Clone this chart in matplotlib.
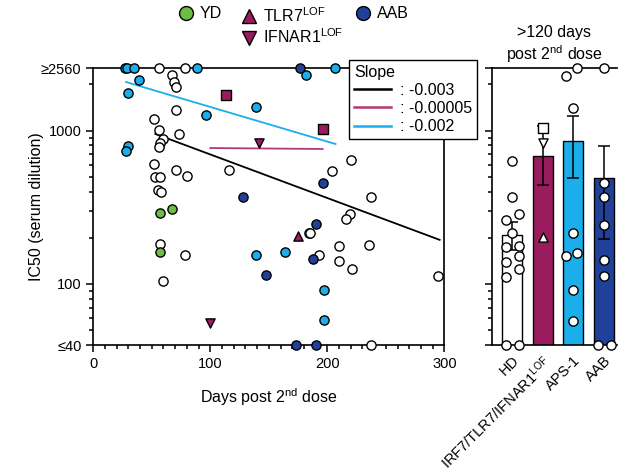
import matplotlib as mpl
import matplotlib.pyplot as plt
from matplotlib.lines import Line2D
from matplotlib.ticker import FixedLocator, MultipleLocator, NullFormatter

mpl.rcParams['font.family'] = ['Liberation Sans', 'DejaVu Sans']
mpl.rcParams['mathtext.fontset'] = 'custom'
mpl.rcParams['mathtext.rm'] = 'Liberation Sans'
mpl.rcParams['mathtext.it'] = 'Liberation Sans:italic'
mpl.rcParams['axes.linewidth'] = 1.2

GREEN = '#6cbd45'
PINK = '#9b1c5e'
LBLUE = '#1baeea'
DBLUE = '#21409a'
LINE_PINK = '#b23a78'

# ---- left panel: IC50 vs days post 2nd dose ----
hd_days = [56, 78, 67, 69, 71, 71, 52, 56, 73, 60, 57, 56, 52, 71, 53, 57, 80,
           116, 55, 58, 57, 78, 60, 220, 204, 237, 219, 216, 184, 185, 210, 236,
           193, 210, 221, 295, 237]
hd_ic50 = [2560, 2560, 2303, 2075, 1923, 1362, 1191, 1009, 951, 882, 830, 782,
           606, 554, 498, 498, 506, 554, 410, 398, 182, 155, 105, 643, 546, 369,
           286, 265, 215, 215, 177, 180, 155, 141, 125, 113, 40]

yd_days = [57, 67, 57]
yd_ic50 = [290, 308, 162]

aps_days = [27, 29, 35, 89, 207, 182, 39, 30, 139, 96, 30, 28, 139, 164, 197, 197]
aps_ic50 = [2560, 2560, 2560, 2560, 2560, 2303, 2138, 1758, 1425, 1264, 794,
            736, 155, 162, 91, 58]

aab_days = [177, 128, 196, 190, 188, 148, 173, 190]
aab_ic50 = [2560, 369, 455, 246, 146, 115, 40, 40]

irf7_days = [113, 196]
irf7_ic50 = [1706, 1024]
ifnar1_days = [142, 100]
ifnar1_ic50 = [830, 56]
tlr7_days = [175]
tlr7_ic50 = [206]

# regression lines (end points)
fit_hd_days = [53, 296]
fit_hd_ic50 = [951, 194]
fit_lof_days = [100, 196]
fit_lof_ic50 = [770, 759]
fit_aps_days = [28, 207]
fit_aps_ic50 = [2074, 818]
slopes = ['-0.003', '-0.00005', '-0.002']

# ---- right panel: >120 days ----
groups = ['HD', 'IRF7/TLR7/IFNAR1$^{\\mathrm{LOF}}$', 'APS-1', 'AAB']
bar_mean = [208, 683, 855, 491]
bar_lo = [167, 442, 491, 196]
bar_hi = [253, 1071, 1245, 794]

late_hd = [634, 369, 286, 261, 215, 177, 174, 152, 139, 125, 111, 40, 40]
late_hd_jit = [0, 0, 0.21, -0.21, 0, 0.21, -0.21, 0.21, -0.21, 0.21, -0.21, -0.21, 0.21]
late_lof = [1040, 830, 202]
late_lof_mk = ['s', 'v', '^']
late_aps = [2270, 2560, 1403, 215, 152, 159, 91, 57]
late_aps_jit = [-0.23, 0.13, 0, 0, -0.23, 0.13, 0, 0]
late_aab = [2560, 455, 369, 242, 143, 113, 40, 40]
late_aab_jit = [0, 0, 0, 0, 0, 0, -0.2, 0.23]

fig = plt.figure(figsize=(6.19, 4.71), dpi=100)
ax = fig.add_axes([0.1507, 0.2675, 0.5671, 0.5881])
ax2 = fig.add_axes([0.7948, 0.2675, 0.2019, 0.5881])

ms = 44
kw = dict(s=ms, edgecolors='black', linewidths=1.0, zorder=4, clip_on=False)

ax.plot(fit_hd_days, fit_hd_ic50, color='black', lw=1.3, zorder=2)
ax.plot(fit_lof_days, fit_lof_ic50, color=LINE_PINK, lw=1.3, zorder=2)
ax.plot(fit_aps_days, fit_aps_ic50, color=LBLUE, lw=1.3, zorder=2)

ax.scatter(hd_days, hd_ic50, facecolors='white', **kw)
ax.scatter(yd_days, yd_ic50, facecolors=GREEN, **kw)
ax.scatter(aps_days, aps_ic50, facecolors=LBLUE, **kw)
ax.scatter(aab_days, aab_ic50, facecolors=DBLUE, **kw)
ax.scatter(irf7_days, irf7_ic50, marker='s', facecolors=PINK, **kw)
ax.scatter(ifnar1_days, ifnar1_ic50, marker='v', facecolors=PINK, **kw)
ax.scatter(tlr7_days, tlr7_ic50, marker='^', facecolors=PINK, **kw)

for a in (ax, ax2):
    a.set_yscale('log')
    a.set_ylim(40, 2560)
    a.yaxis.set_major_locator(FixedLocator([40, 100, 1000, 2560]))
    a.yaxis.set_minor_locator(FixedLocator([50, 60, 70, 80, 90, 200, 300, 400, 500,
                                            600, 700, 800, 900, 2000]))
    a.yaxis.set_minor_formatter(NullFormatter())
    a.tick_params(which='major', direction='out', length=5, width=1.1, labelsize=10.5)
    a.tick_params(which='minor', direction='out', length=3, width=1.1)

ax.set_yticklabels(['\u226440', '100', '1000', '\u22652560'])
ax.set_xlim(0, 300)
ax.xaxis.set_major_locator(MultipleLocator(100))
ax.xaxis.set_minor_locator(MultipleLocator(10))
ax.set_ylabel('IC50 (serum dilution)', fontsize=11.5)
ax.yaxis.set_label_coords(-0.14, 0.5)
ax.set_xlabel('Days post 2$^{\\mathrm{nd}}$ dose', fontsize=11.5)
ax.xaxis.set_label_coords(0.5, -0.15)

handles = [Line2D([], [], color=c, lw=1.8) for c in ('black', LINE_PINK, LBLUE)]
leg = ax.legend(handles, [': ' + s for s in slopes], title='Slope',
                loc='upper left', bbox_to_anchor=(0.564, 0.873),
                bbox_transform=fig.transFigure, fontsize=11.5, title_fontsize=11.5,
                frameon=True, fancybox=False, edgecolor='black', framealpha=1,
                handlelength=2.3, handletextpad=0.6, borderpad=0.3,
                borderaxespad=0, labelspacing=0.2, alignment='left')
leg.get_frame().set_linewidth(1.0)
leg.set_zorder(10)

# right panel
pos = list(range(len(groups)))
ax2.bar(pos, bar_mean, width=0.65, color=['white', PINK, LBLUE, DBLUE],
        edgecolor='black', linewidth=1.0, zorder=2)
err = [[m - lo for m, lo in zip(bar_mean, bar_lo)],
       [hi - m for m, hi in zip(bar_mean, bar_hi)]]
ax2.errorbar(pos, bar_mean, yerr=err, fmt='none', ecolor='black', elinewidth=1.1,
             capsize=4, capthick=1.1, zorder=3)

ax2.scatter([0 + j for j in late_hd_jit], late_hd, facecolors='white', **kw)
for v, m in zip(late_lof, late_lof_mk):
    ax2.scatter([1], [v], marker=m, facecolors='white', **kw)
ax2.scatter([2 + j for j in late_aps_jit], late_aps, facecolors='white', **kw)
ax2.scatter([3 + j for j in late_aab_jit], late_aab, facecolors='white', **kw)

ax2.set_xlim(-0.67, 3.43)
ax2.set_xticks(pos)
ax2.set_xticklabels(groups, rotation=45, ha='right', rotation_mode='anchor',
                    fontsize=10.5)
ax2.tick_params(axis='x', length=0, pad=6)
ax2.yaxis.set_major_formatter(NullFormatter())
ax2.spines['right'].set_visible(False)
ax2.set_title('>120 days\npost 2$^{\\mathrm{nd}}$ dose', fontsize=11.5, pad=6)

# top legend, three separately placed columns
def marker(m, c):
    return Line2D([], [], ls='', marker=m, ms=10, mfc=c, mec='black')

top_cols = [
    ([marker('o', GREEN)], ['YD'], 0.2767),
    ([marker('^', PINK), marker('v', PINK)],
     ['TLR7$^{\\mathrm{LOF}}$', 'IFNAR1$^{\\mathrm{LOF}}$'], 0.3785),
    ([marker('o', DBLUE)], ['AAB'], 0.5627),
]
for h, lab, x0 in top_cols:
    lg = fig.legend(h, lab, loc='upper left', bbox_to_anchor=(x0, 1.0),
                    frameon=False, fontsize=11.5, handlelength=1,
                    handletextpad=0.4, labelspacing=0.15, borderpad=0.4,
                    borderaxespad=0)

fig.savefig('out.png', dpi=100)
